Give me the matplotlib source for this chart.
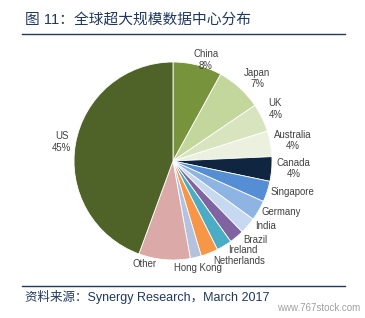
import matplotlib
matplotlib.use("Agg")
import matplotlib.pyplot as plt
import numpy as np

plt.rcParams['font.family'] = ['Liberation Sans', 'Noto Sans CJK SC', 'DejaVu Sans']

# 数据（从图中读出，从 12 点方向顺时针）
countries = ["China", "Japan", "UK", "Australia", "Canada", "Singapore", "Germany",
             "India", "Brazil", "Ireland", "Netherlands", "Hong Kong", "Other", "US"]
shares = [8.0, 7.5, 4.6, 4.2, 4.0, 3.4, 3.3, 2.7, 2.4, 2.5, 2.8, 1.8, 8.4, 44.4]
shown_pct = ["8%", "7%", "4%", "4%", "4%", "", "", "", "", "", "", "", "", "45%"]
colors = ["#77933C", "#C3D69B", "#D7E4BD", "#EBF1DE", "#10253F", "#558ED5", "#8EB4E3",
          "#C6D9F1", "#8064A2", "#4BACC6", "#F79646", "#B4C2DE", "#DAA9A8", "#4F6228"]

# 标签位置（角度, 半径倍数），仿照 Excel 的摆放
label_angle = [72, 44.5, 27, 9.6, -3.5, -14.4, -25, -35.2, -43.9, -52, -56.3, -76.9, -105.6, 170.3]
label_rad = [1.07, 1.19, 1.16, 1.23, 1.22, 1.25, 1.21, 1.14, 1.15, 1.14, 1.21, 1.11, 1.08, 1.14]

labels = [c if p == "" else c + "\n" + p for c, p in zip(countries, shown_pct)]

W, H = 365, 318
fig = plt.figure(figsize=(W / 100, H / 100), dpi=100)
fig.patch.set_facecolor("white")

navy = "#1F3864"

# 标题和上下两条线
fig.text(25 / W, 1 - 20 / H, "图 11：全球超大规模数据中心分布", fontsize=10.6,
         color=navy, ha="left", va="center")
fig.add_artist(plt.Line2D([22 / W, 345 / W], [1 - 34 / H, 1 - 34 / H], color=navy, lw=1.0))
fig.add_artist(plt.Line2D([22 / W, 345 / W], [1 - 286 / H, 1 - 286 / H], color=navy, lw=1.0))
fig.text(25 / W, 1 - 297 / H, "资料来源：Synergy Research，March 2017", fontsize=9,
         color=navy, ha="left", va="center")
fig.text(360 / W, 1 - 308 / H, "www.767stock.com", fontsize=7, color="#A0A0A0",
         ha="right", va="center")

# 饼图
cx, cy, r = 173, 161, 99
ax = fig.add_axes([(cx - r) / W, (H - cy - r) / H, 2 * r / W, 2 * r / H])
wedges, _ = ax.pie(shares, colors=colors, startangle=90, counterclock=False,
                   wedgeprops=dict(edgecolor="white", linewidth=0.6))
ax.set_xlim(-1, 1)
ax.set_ylim(-1, 1)
ax.set_aspect("equal")
ax.axis("off")

for lab, a, d in zip(labels, label_angle, label_rad):
    t = np.deg2rad(a)
    ax.text(d * np.cos(t), d * np.sin(t), lab, fontsize=6.9, color="#404040",
            ha="center", va="center", multialignment="center", clip_on=False)

fig.savefig("out.png", dpi=100, facecolor="white")
